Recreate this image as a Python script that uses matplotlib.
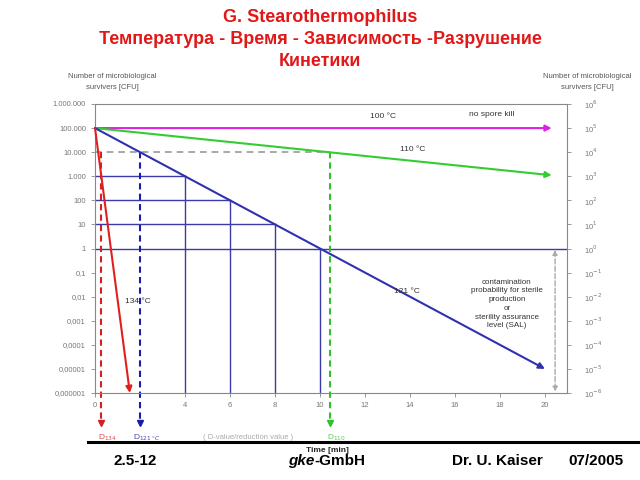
import matplotlib
matplotlib.use("Agg")
import matplotlib.pyplot as plt
from matplotlib.lines import Line2D
import matplotlib.transforms as mtransforms

plt.rcParams['font.family'] = ['Liberation Sans', 'DejaVu Sans']

# ---- data ----
t100 = [0, 20.3]; n100 = [1e5, 1e5]
t110 = [0, 20.3]; n110 = [1e5, 1.1e3]
t121 = [0, 20.0]; n121 = [1e5, 1e-5]
t134 = [0, 1.55]; n134 = [1e5, 1e-6]
drop_times = [4, 6, 8, 10]
drop_levels = [1e3, 1e2, 1e1, 1e0]
d_times = [0.27, 2.0, 10.45]          # D134, D121, D110 markers
d_labels = ["D$_{134}$", "D$_{121\\,°C}$", "D$_{110}$"]
d_colors = ["#d42020", "#1c1caa", "#30c030"]
d_level = 1e4
sal_time = 20.45
xticks = [0, 2, 4, 6, 8, 10, 12, 14, 16, 18, 20]
xticklabels = ["0", "", "4", "6", "8", "10", "12", "14", "16", "18", "20"]
yticks = [1e6, 1e5, 1e4, 1e3, 1e2, 1e1, 1e0, 1e-1, 1e-2, 1e-3, 1e-4, 1e-5, 1e-6]
ylabels_left = ["1.000.000", "100.000", "10.000", "1.000", "100", "10", "1",
                "0,1", "0,01", "0,001", "0,0001", "0,00001", "0,000001"]
ylabels_right = ["10$^{6}$", "10$^{5}$", "10$^{4}$", "10$^{3}$", "10$^{2}$", "10$^{1}$", "10$^{0}$",
                 "10$^{-1}$", "10$^{-2}$", "10$^{-3}$", "10$^{-4}$", "10$^{-5}$", "10$^{-6}$"]

fig = plt.figure(figsize=(6.4, 4.8), dpi=100)
W, H = 640, 480
ax = fig.add_axes([95 / W, 1 - 393 / H, (567 - 95) / W, (393 - 104) / H])
ax.set_yscale('log')
ax.set_xlim(0, 20.98)
ax.set_ylim(1e-6, 1e6)

grey = "#888888"
for s in ax.spines.values():
    s.set_color(grey)
    s.set_linewidth(0.8)

ax.set_xticks(xticks)
ax.set_xticklabels(xticklabels, fontsize=5.5, color="#777777")
ax.set_yticks(yticks)
ax.set_yticklabels(ylabels_left, fontsize=5.5, color="#777777")
ax.minorticks_off()
ax.tick_params(axis='both', colors=grey, labelcolor="#777777", length=3, width=0.6)

ax2 = ax.twinx()
ax2.set_yscale('log')
ax2.set_ylim(1e-6, 1e6)
ax2.set_yticks(yticks)
ax2.set_yticklabels(ylabels_right, fontsize=5.5, color="#777777")
ax2.minorticks_off()
ax2.tick_params(axis='y', colors=grey, labelcolor="#777777", length=3, width=0.6, pad=9)
for s in ax2.spines.values():
    s.set_visible(False)

navy = "#3a3aa8"
# grid drop lines for 121 °C
for t, lv in zip(drop_times, drop_levels):
    ax.plot([0, t], [lv, lv], color=navy, lw=1.0)
    ax.plot([t, t], [lv, 1e-6], color=navy, lw=1.0)
ax.plot([drop_times[-1], 20.98], [1e0, 1e0], color=navy, lw=1.0)

# gray dashed horizontal at 1e4
ax.plot([0, d_times[2]], [d_level, d_level], color="#999999", lw=1.2, ls=(0, (4, 3)))

# main lines with arrows
def arrow_line(t, n, color, lw=1.5):
    ax.annotate("", xy=(t[1], n[1]), xytext=(t[0], n[0]),
                arrowprops=dict(arrowstyle='-|>', color=color, lw=lw,
                                mutation_scale=9, shrinkA=0, shrinkB=0))

arrow_line(t100, n100, "#e020e0")
arrow_line(t110, n110, "#33cc33")
arrow_line(t121, n121, "#3030b0")
arrow_line(t134, n134, "#e02020")

# D-value dashed verticals extending below axis
trans = mtransforms.blended_transform_factory(ax.transData, ax.transAxes)
y_start_ax = (6 + 4) / 12.0
for t, lab, c in zip(d_times, d_labels, d_colors):
    ax.plot([t, t], [y_start_ax, -0.10], transform=trans, color=c, lw=1.5,
            ls=(0, (3, 2)), clip_on=False)
    ax.plot([t], [-0.105], transform=trans, marker='v', color=c, ms=4, clip_on=False)
    ax.text(t + 0.3, -0.155, lab, transform=trans, color=c, fontsize=6,
            ha='center', va='center', alpha=0.8)
ax.text(6.8, -0.155, "( D-value/reduction value )", transform=trans, color="#aaaaaa",
        fontsize=5.5, ha='center', va='center')

# SAL double arrow
ax.annotate("", xy=(sal_time, 1e-6), xytext=(sal_time, 1e0),
            arrowprops=dict(arrowstyle='<|-|>', color="#aaaaaa", lw=1.0, ls='--',
                            mutation_scale=7, shrinkA=1, shrinkB=1))

# texts in plot
ax.text(12.8, 10 ** 5.48, "100 °C", fontsize=6, color="#333333", ha='center', va='center')
ax.text(17.65, 10 ** 5.55, "no spore kill", fontsize=6, color="#333333", ha='center', va='center')
ax.text(14.1, 10 ** 4.1, "110 °C", fontsize=6, color="#333333", ha='center', va='center')
ax.text(13.85, 10 ** -1.77, "121 °C", fontsize=6, color="#333333", ha='center', va='center')
ax.text(1.9, 10 ** -2.22, "134 °C", fontsize=6, color="#333333", ha='center', va='center')
ax.text(18.3, 10 ** -2.3, "contamination\nprobability for sterile\nproduction\nor\nsterility assurance\nlevel (SAL)",
        fontsize=5.8, color="#333333", ha='center', va='center', linespacing=1.35)

# axis captions
fig.text(112 / W, 1 - 82 / H, "Number of microbiological\nsurvivers [CFU]", fontsize=5.5,
         color="#555555", ha='center', va='center', linespacing=1.7)
fig.text(587 / W, 1 - 82 / H, "Number of microbiological\nsurvivers [CFU]", fontsize=5.5,
         color="#555555", ha='center', va='center', linespacing=1.7)

# title
red = "#e01818"
fig.text(0.5, 1 - 18 / H, "G. Stearothermophilus", fontsize=13, fontweight='bold',
         color=red, ha='center', va='center')
fig.text(0.5, 1 - 40 / H, "Температура - Время - Зависимость -Разрушение", fontsize=13,
         fontweight='bold', color=red, ha='center', va='center')
fig.text(0.5, 1 - 62 / H, "Кинетики", fontsize=13, fontweight='bold',
         color=red, ha='center', va='center')

# footer rule
fig.add_artist(Line2D([88 / W, 1.0], [1 - 442 / H, 1 - 442 / H], color='black', lw=2.2))
fig.text(327 / W, 1 - 450 / H, "Time [min]", fontsize=6, fontweight='bold',
         color="#222222", ha='center', va='center')

fig.text(135 / W, 1 - 461 / H, "2.5-12", fontsize=11, fontweight='bold', ha='center', va='center')
fig.text(314 / W, 1 - 461 / H, "gke", fontsize=11, fontweight='bold', style='italic',
         ha='right', va='center')
fig.text(314 / W, 1 - 461 / H, "-GmbH", fontsize=11, fontweight='bold', ha='left', va='center')
fig.text(497 / W, 1 - 461 / H, "Dr. U. Kaiser", fontsize=11, fontweight='bold', ha='center', va='center')
fig.text(596 / W, 1 - 461 / H, "07/2005", fontsize=11, fontweight='bold', ha='center', va='center')

fig.savefig("out.png", dpi=100)
